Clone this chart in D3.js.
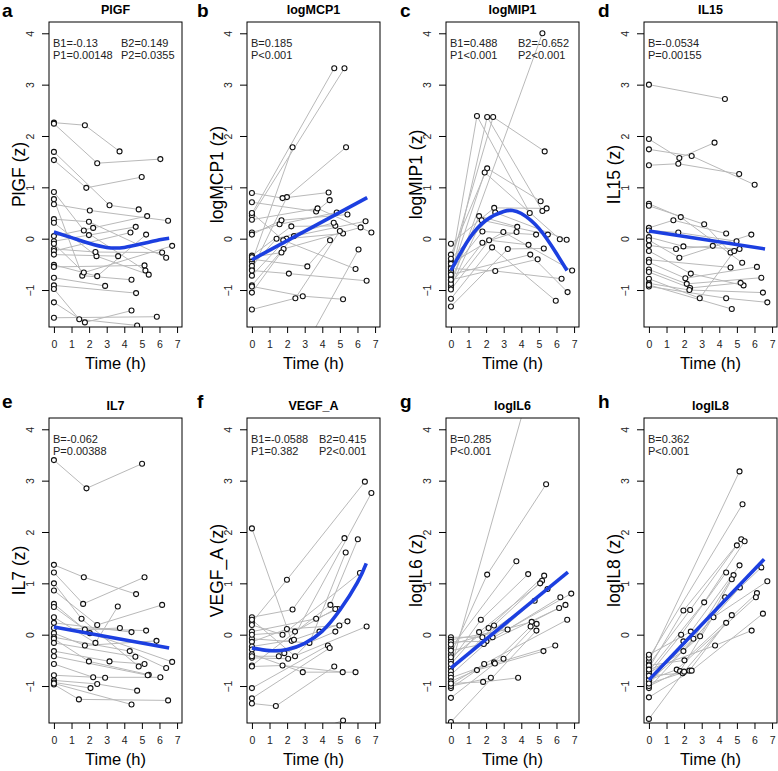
<!DOCTYPE html>
<html><head><meta charset="utf-8">
<script src="https://cdn.jsdelivr.net/npm/d3@7"></script>
<style>body{margin:0;background:#fff} text{font-family:"Liberation Sans",Arial,Helvetica,sans-serif}</style>
</head><body><svg id="c" width="778" height="771"></svg>
<script>
// ---------- data (time in h, value in z) ----------
const panelLetters = ["a","b","c","d","e","f","g","h"];
const panelTitles = ["PlGF","logMCP1","logMIP1","IL15","IL7","VEGF_A","logIL6","logIL8"];
const yLabels = ["PlGF (z)","logMCP1 (z)","logMIP1 (z)","IL15 (z)","IL7 (z)","VEGF_A (z)","logIL6 (z)","logIL8 (z)"];
const statsLine1 = [["B1=-0.13","B2=0.149"],["B=0.185"],["B1=0.488","B2=-0.652"],["B=-0.0534"],["B=-0.062"],["B1=-0.0588","B2=0.415"],["B=0.285"],["B=0.362"]];
const statsLine2 = [["P1=0.00148","P2=0.0355"],["P<0.001"],["P1<0.001","P2<0.001"],["P=0.00155"],["P=0.00388"],["P1=0.382","P2<0.001"],["P<0.001"],["P<0.001"]];
const xTicks = [0,1,2,3,4,5,6,7];
const yTicks = [-1,0,1,2,3,4];

const plgfSubjects = [
 [[0,2.26],[1.76,2.21],[3.73,1.70]],[[0,2.24],[2.46,1.47],[6.05,1.55]],[[0,1.69],[3.16,0.65],[4.82,0.57]],
 [[0,1.53],[1.84,0.99],[4.99,1.20]],[[0,0.91],[1.70,0.16],[5.2,-0.62]],[[0,0.77],[1.61,-0.72],[4.41,-0.80]],
 [[0,0.67],[2.04,0.55],[6.49,0.35]],[[0,0.38],[1.99,0.33],[6.38,-0.37]],[[0,0.31],[2.42,-0.34],[5.39,-0.70]],
 [[0,0.05],[2.23,0.21],[5.30,0.44]],[[0,-0.05],[1.99,0.07],[4.65,0.23]],[[0,-0.10],[1.70,-0.66],[6.72,-0.14]],
 [[0,-0.20],[2.36,-0.26],[6.15,-0.27]],[[0,-0.24],[4.35,0.12]],[[0,-0.31],[3.65,-0.34]],
 [[0,-0.51],[2.46,-0.73],[5.24,0.08]],[[0,-0.55],[5.15,-0.52]],[[0,-0.76],[2.91,-0.92]],[[0,-0.91],[4.67,-1.06]],
 [[0,-0.98],[1.44,-1.57],[4.73,-1.69]],[[0,-1.24],[1.76,-1.63],[4.41,-1.40]],[[0,-1.54],[5.85,-1.52]]
];
const plgfFit = [[0,0.13],[1,0.02],[2,-0.09],[3,-0.17],[4,-0.17],[5,-0.10],[6,-0.02],[6.55,0.01]];

const mcp1Subjects = [
 [[0,0.49],[4.68,3.32]],[[0,0.45],[5.26,3.32]],[[0,-0.45],[2.31,1.78]],[[0,-0.60],[1.99,0.81],[5.35,1.78]],
 [[0,0.89],[1.74,0.79],[4.36,0.90]],[[0,0.71],[3.65,0.53],[4.42,0.75]],[[0,0.37],[3.73,0.59],[6.79,0.12]],
 [[0,0.12],[1.57,0.28],[4.82,0.51]],[[0,0.08],[1.68,0.36],[5.43,0.47]],[[0,-0.33],[2.24,0.24],[4.74,0.25]],
 [[0,-0.53],[1.40,0.0],[4.65,0.31]],[[0,-0.72],[1.97,0.0],[5.18,0.10]],[[0,-0.91],[2.39,0.05],[6.46,0.34]],
 [[0,-1.05],[1.80,-0.20],[6.18,0.22]],[[0,-1.38],[2.47,-1.16],[5.0,0.15]],[[0,-0.93],[2.89,-1.12],[5.18,-1.18]],
 [[0,-0.62],[2.10,-0.68],[6.52,-0.82]],[[0,-0.40],[3.15,-0.54],[4.44,-0.03]],[[0,0.50],[1.78,-0.03],[5.89,-0.59]],
 [[0,-2.6],[2.7,-2.3],[6.06,-0.21]],[[0,-0.36],[1.68,-0.27]]
];
const mcp1Fit = [[0,-0.41],[6.55,0.80]];

const mip1Subjects = [
 [[0,-0.90],[5.2,4.0]],[[0,-0.55],[1.48,2.39],[4.48,0.50]],[[0,-0.75],[2.06,2.37],[5.2,0.54]],
 [[0,-0.45],[2.40,2.37],[5.33,1.70]],[[0,-0.31],[2.06,1.37],[5.1,0.73]],[[0,-0.68],[1.92,1.29],[6.19,-0.01]],
 [[0,-0.10],[2.46,0.60],[5.44,0.59]],[[0,-0.39],[2.52,0.51],[6.58,-0.02]],[[0,-0.81],[1.60,0.44],[3.77,0.23]],
 [[0,-0.94],[1.75,0.36],[5.51,0.08]],[[0,-0.63],[1.79,0.14],[4.84,0.08]],[[0,-0.49],[2.98,0.13],[6.89,-0.62]],
 [[0,-0.88],[1.79,-0.08],[3.73,0.13]],[[0,-0.99],[2.17,-0.03],[4.41,-0.12]],[[0,-1.17],[2.34,-0.17],[5.96,-1.21]],
 [[0,-1.32],[3.23,-0.20],[5.28,-0.19]],[[0,-0.58],[2.52,-0.63],[6.29,-0.78]],[[0,-0.70],[4.51,-0.31],[6.63,-1.04]],
 [[0,-0.80],[4.93,-0.40]]
];
const mip1Fit = [[0,-0.62],[1,-0.02],[2,0.36],[3,0.53],[3.5,0.55],[4,0.49],[5,0.20],[6,-0.29],[6.6,-0.62]];

const il15Subjects = [
 [[0,3.0],[4.32,2.72]],[[0,1.94],[1.73,1.57],[3.73,1.87]],[[0,1.74],[2.43,1.61],[6.01,1.05]],
 [[0,1.43],[1.67,1.46],[5.13,1.26]],[[0,0.68],[1.81,0.42],[5.30,-0.47]],[[0,0.64],[3.14,0.28],[4.64,-0.27]],
 [[0,0.21],[1.39,0.36],[4.39,0.10]],[[0,0.16],[1.67,0.12],[4.98,-0.05]],[[0,0.03],[1.96,-0.15],[5.15,-0.20]],
 [[0,-0.03],[1.73,-0.37],[5.82,0.08]],[[0,-0.13],[1.54,-0.20],[3.63,-0.14]],[[0,-0.24],[2.38,-0.68],[5.38,-0.91]],
 [[0,-0.41],[4.64,-0.56]],[[0,-0.46],[2.07,-0.77],[6.14,-0.55]],[[0,-0.60],[2.15,-0.88],[6.39,-0.76]],
 [[0,-0.65],[2.34,-0.96],[5.21,-0.86]],[[0,-0.78],[2.89,-1.16],[4.85,-0.24]],[[0,-0.87],[2.30,-1.0],[6.48,-1.05]],
 [[0,-0.93],[4.39,-1.16],[6.73,-1.24]],[[0,-0.90],[4.71,-1.37]]
];
const il15Fit = [[0,0.15],[6.6,-0.20]];

const il7Subjects = [
 [[0,3.40],[1.85,2.85],[5.01,3.33]],[[0,1.36],[1.70,1.12],[4.67,0.79]],[[0,1.21],[1.66,0.60],[5.15,1.12]],
 [[0,1.0],[1.57,0.31],[4.82,-0.62]],[[0,0.86],[2.46,0.19],[6.15,0.58]],[[0,0.60],[1.76,0.10],[3.75,0.13]],
 [[0,0.54],[2.04,0.03],[6.72,-0.53]],[[0,0.34],[2.36,-0.16],[3.63,0.55]],[[0,0.23],[4.41,0.05]],
 [[0,0.13],[5.24,0.08]],[[0,0.03],[1.76,-0.21],[5.83,-0.12]],[[0,-0.05],[4.31,-0.32],[6.38,-0.65]],
 [[0,-0.08],[1.99,-0.52],[5.39,-0.78]],[[0,-0.16],[4.63,-0.43]],[[0,-0.32],[3.16,-0.52],[5.15,-0.57]],
 [[0,-0.42],[5.33,-0.79]],[[0,-0.57],[2.23,-0.83],[6.05,-0.83]],[[0,-0.79],[2.91,-0.84]],
 [[0,-0.89],[2.46,-0.96],[4.73,-1.09]],[[0,-0.93],[2.08,-1.04]],[[0,-0.97],[1.42,-1.26],[6.49,-1.28]],
 [[0,-0.95],[4.41,-1.36]]
];
const il7Fit = [[0,0.15],[6.55,-0.26]];

const vegfSubjects = [
 [[0,0.24],[1.99,1.07],[6.42,2.98]],[[0,2.07],[2.26,-0.12],[6.79,2.76]],[[0,0.34],[2.31,0.49],[5.26,1.88]],
 [[0,-0.60],[4.46,0.58],[6.02,1.86]],[[0,-0.08],[3.27,-0.16],[5.33,1.60]],[[0,0.19],[1.74,0.0],[6.14,1.20]],
 [[0,0.06],[3.65,0.31],[4.89,0.50]],[[0,0.0],[2.45,0.06],[4.74,0.50]],[[0,-0.14],[1.99,0.11],[4.97,0.18]],
 [[0,-0.23],[2.39,-0.10],[5.43,0.26]],[[0,-0.29],[1.84,-0.36],[4.74,0.06]],[[0,-0.38],[2.89,-0.73],[5.89,-0.73]],
 [[0,-0.45],[2.06,-0.47],[6.52,0.16]],[[0,0.29],[2.45,-0.42],[3.84,0.06]],[[0,-0.62],[1.74,-0.60],[5.16,-0.73]],
 [[0,-1.04],[4.32,-0.21]],[[0,-1.24],[4.42,-0.26]],[[0,-1.34],[1.36,-1.39],[4.68,-0.62]],
 [[0,-2.3],[5.18,-1.67]],[[0,-0.42],[1.53,-0.42]]
];
const vegfFit = [[0,-0.26],[1,-0.31],[2,-0.29],[3,-0.17],[4,0.07],[5,0.48],[6,1.02],[6.5,1.39]];

const il6Subjects = [
 [[0,-0.64],[4.8,5.2]],[[0,-0.38],[2.06,1.17],[5.41,2.93]],[[0,-0.26],[3.72,1.43]],
 [[0,-0.51],[1.70,0.29],[4.39,1.18]],[[0,-0.44],[2.14,0.13],[5.30,1.15]],[[0,-0.71],[2.45,0.18],[5.18,1.05]],
 [[0,-0.57],[1.60,0.05],[5.07,1.00]],[[0,-0.78],[2.37,-0.05],[5.49,0.89]],[[0,-0.05],[1.79,-0.05],[4.76,0.66]],
 [[0,-0.10],[3.22,0.10],[6.22,0.73]],[[0,-0.14],[2.02,-0.13],[6.84,0.80]],[[0,-0.19],[4.59,0.25],[6.15,0.52]],
 [[0,-0.31],[1.87,-0.18],[6.51,0.58]],[[0,-0.84],[2.99,-0.47],[4.87,0.21]],[[0,-0.91],[2.45,-0.54],[4.53,0.16]],
 [[0,-0.97],[1.89,-0.57],[6.61,0.29]],[[0,-1.04],[1.48,-0.69],[5.26,-0.32]],[[0,-1.23],[2.50,-0.56],[5.93,-0.21]],
 [[0,-1.70],[4.86,0.08]],[[0,-1.0],[2.27,-0.84]],[[0,-0.95],[1.83,-0.92],[3.82,-0.84]]
];
const il6Fit = [[0,-0.65],[6.65,1.22]];

const il8Subjects = [
 [[0,-0.52],[5.15,3.18]],[[0,-0.45],[5.32,2.54]],[[0,-0.58],[2.34,0.48],[5.0,1.74]],
 [[0,-0.65],[1.96,0.47],[5.25,1.86]],[[0,-0.71],[3.14,0.63],[5.44,1.82]],[[0,-0.39],[2.38,0.06],[5.15,1.35]],
 [[0,-0.78],[1.83,0.0],[4.39,1.21]],[[0,-0.84],[2.53,-0.08],[4.81,1.16]],[[0,-0.91],[2.91,-0.03],[4.71,1.08]],
 [[0,-0.97],[1.96,-0.13],[6.39,1.31]],[[0,-1.04],[3.67,0.34],[6.73,1.04]],[[0,-0.60],[2.02,-0.50],[6.14,0.81]],
 [[0,-0.75],[1.96,-0.32],[5.17,0.92]],[[0,-0.88],[1.58,-0.68],[6.08,0.73]],[[0,-1.0],[1.77,-0.71],[4.33,0.73]],
 [[0,-0.95],[2.30,-0.70],[4.71,0.38]],[[0,-1.22],[2.43,-0.70],[6.48,0.41]],[[0,-0.80],[1.92,-0.75],[4.39,0.23]],
 [[0,-0.68],[3.76,-0.21],[5.84,0.08]],[[0,-1.64],[2.0,-0.72]]
];
const il8Fit = [[0,-0.88],[6.55,1.47]];

const allSubjects = [plgfSubjects,mcp1Subjects,mip1Subjects,il15Subjects,il7Subjects,vegfSubjects,il6Subjects,il8Subjects];
const allFits = [plgfFit,mcp1Fit,mip1Fit,il15Fit,il7Fit,vegfFit,il6Fit,il8Fit];
const curvedFit = [true,false,true,false,false,true,false,false];

// ---------- layout ----------
const xDomain = [-0.28, 7.28];
const yDomain = [-1.72, 4.22];
const boxLefts = [49,247,446,644], boxTops = [22,418];
const letterX = [2,197,400,598], letterY = [17,408];
const W = 133, H = 305;

const svg = d3.select("#c");
svg.append("rect").attr("width",778).attr("height",771).attr("fill","#fff");

panelTitles.forEach((title,i)=>{
  const col = i%4, row = Math.floor(i/4);
  const L = boxLefts[col], T = boxTops[row];
  const x = d3.scaleLinear().domain(xDomain).range([L, L+W]);
  const y = d3.scaleLinear().domain(yDomain).range([T+H, T]);
  const g = svg.append("g");
  const clipId = "clip"+i;
  g.append("clipPath").attr("id",clipId).append("rect")
    .attr("x",L).attr("y",T).attr("width",W).attr("height",H);
  const plot = g.append("g").attr("clip-path",`url(#${clipId})`);
  const line = d3.line().x(d=>x(d[0])).y(d=>y(d[1]));
  plot.selectAll("path.subj").data(allSubjects[i]).join("path")
    .attr("class","subj").attr("d",line)
    .attr("fill","none").attr("stroke","#b9b9b9").attr("stroke-width",1);
  plot.selectAll("circle").data(allSubjects[i].flat()).join("circle")
    .attr("cx",d=>x(d[0])).attr("cy",d=>y(d[1])).attr("r",2.5)
    .attr("fill","#fff").attr("stroke","#111").attr("stroke-width",1.1);
  const fitLine = d3.line().x(d=>x(d[0])).y(d=>y(d[1]))
    .curve(curvedFit[i] ? d3.curveNatural : d3.curveLinear);
  plot.append("path").datum(allFits[i]).attr("d",fitLine)
    .attr("fill","none").attr("stroke","#1c3fe0").attr("stroke-width",3.6)
    .attr("stroke-linecap","butt");

  // box
  g.append("rect").attr("x",L).attr("y",T).attr("width",W).attr("height",H)
    .attr("fill","none").attr("stroke","#000").attr("stroke-width",1);

  // axes
  const xa = g.append("g").attr("transform",`translate(0,${T+H})`)
    .call(d3.axisBottom(x).tickValues(xTicks).tickSize(6).tickPadding(8).tickFormat(d3.format("d")));
  xa.select(".domain").remove();
  xa.selectAll("text").attr("font-size",10.5).attr("fill","#222").attr("font-family",null);
  const ya = g.append("g").attr("transform",`translate(${L},0)`)
    .call(d3.axisLeft(y).tickValues(yTicks).tickSize(7).tickFormat(d3.format("d")));
  ya.select(".domain").remove();
  ya.selectAll("text").attr("transform","rotate(-90)").attr("x",0).attr("y",-15)
    .attr("dy",0).attr("text-anchor","middle").attr("font-size",10.5).attr("fill","#222").attr("font-family",null);

  // labels
  g.append("text").attr("x",L+W/2).attr("y",T-8).attr("text-anchor","middle")
    .attr("font-weight","bold").attr("font-size",12.5).text(title);
  g.append("text").attr("x",letterX[col]).attr("y",letterY[row])
    .attr("font-weight","bold").attr("font-size",19).text(panelLetters[i]);
  g.append("text").attr("transform",`translate(${L-24},${T+H/2}) rotate(-90)`)
    .attr("text-anchor","middle").attr("font-size",17.5).text(yLabels[i]);
  g.append("text").attr("x",L+W/2).attr("y",T+H+42).attr("text-anchor","middle")
    .attr("font-size",16.5).text("Time (h)");
  const colX = [L+4, L+72];
  statsLine1[i].forEach((s,k)=>g.append("text").attr("x",colX[k]).attr("y",T+25).attr("font-size",11).attr("fill","#222").text(s));
  statsLine2[i].forEach((s,k)=>g.append("text").attr("x",colX[k]).attr("y",T+37).attr("font-size",11).attr("fill","#222").text(s));
});
</script></body></html>
